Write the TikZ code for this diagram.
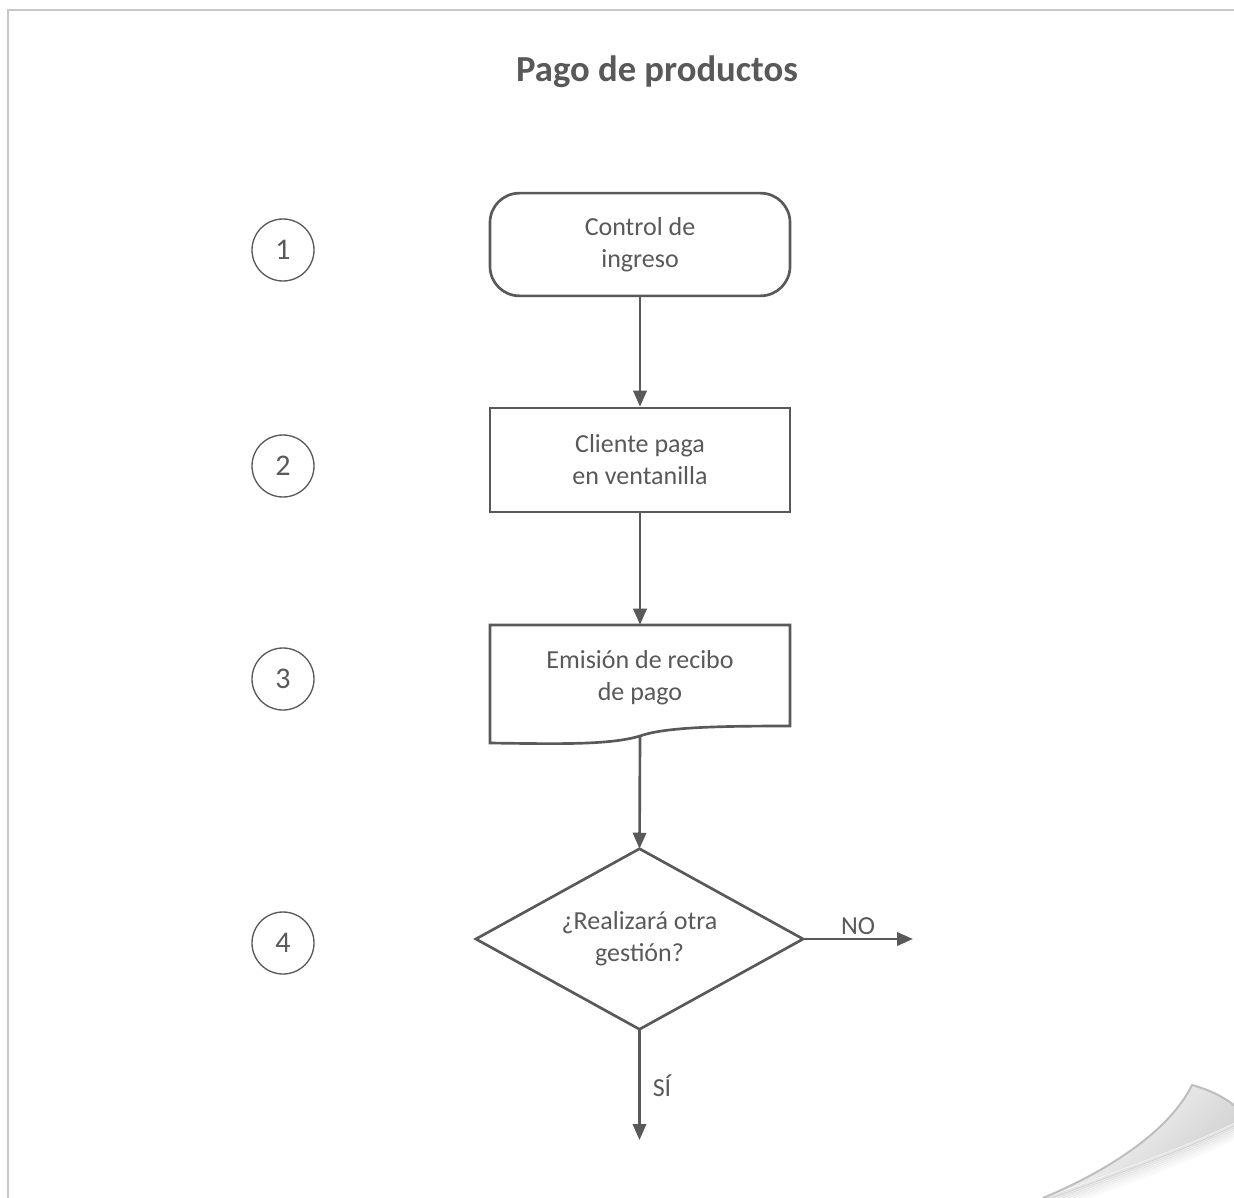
\documentclass[tikz,border=0pt]{standalone}
\usepackage{fontspec}
\setmainfont{Carlito}
\usetikzlibrary{arrows.meta}
\definecolor{ln}{HTML}{595959}
\definecolor{tx}{HTML}{595959}
\definecolor{fr}{HTML}{C8C8C8}
\definecolor{cl}{HTML}{BEBEBE}
\begin{document}
\begin{tikzpicture}[x=0.75pt,y=-0.75pt,
  txtfont/.style={font=\fontsize{19.5}{24}\selectfont},
  base/.style={draw=ln, line width=2pt, text=tx, align=center, txtfont},
  startbox/.style={base, rectangle, rounded corners=22pt, minimum width=225pt, minimum height=77pt},
  procbox/.style={base, rectangle, minimum width=225pt, minimum height=78pt},
  docbox/.style={rectangle, text=tx, align=center, txtfont, minimum width=225pt, minimum height=79.5pt, inner sep=0pt},
  docline/.style={draw=ln, line width=2pt},
  decbox/.style={rectangle, text=tx, align=center, txtfont, minimum width=245pt, minimum height=135pt, inner sep=0pt},
  numcirc/.style={circle, draw=ln, line width=1pt, minimum size=46.5pt, inner sep=0pt, text=tx, font=\fontsize{22.5}{24}\selectfont},
  conn/.style={draw=ln, line width=2pt, -{Triangle[length=12pt,width=10pt]}},
  lbl/.style={text=tx, txtfont, inner sep=0pt}
]
\fill[white] (0,0) rectangle (1234,1198);
\useasboundingbox (0,0) rectangle (1234,1198);
\draw[fr, line width=2.2pt] (8,1198) -- (8,10) -- (1234,10);
% page curl shadow
\begin{scope}
  \clip (0,0) rectangle (1234,1198);
  \foreach \i/\o in {1/0.10,2/0.08,3/0.06,4/0.05,5/0.04,6/0.03,7/0.02,8/0.015} {
    \draw[black, opacity=\o, line width=2pt]
      (1043,{1198+2*\i}) .. controls (1120,{1170+2*\i}) and (1190,{1145+2*\i}) .. (1240,{1120+2*\i});
  }
  % page curl face
  \shade[left color=white, right color=black!20, shading angle=45]
    (1192,1085) .. controls (1170,1130) and (1110,1170) .. (1043,1198)
    .. controls (1120,1170) and (1190,1145) .. (1240,1120)
    -- (1240,1110) .. controls (1225,1097) and (1210,1090) .. (1192,1085) -- cycle;
  \draw[cl, line width=1.5pt]
    (1043,1198) .. controls (1110,1170) and (1170,1130) .. (1192,1085)
    .. controls (1210,1090) and (1225,1097) .. (1240,1110);
\end{scope}

\node[text=tx, font=\fontsize{27.5}{30}\selectfont\bfseries] (title) at (657,72) {Pago de productos};

\node[numcirc] (c1) at (283,250) {1};
\node[numcirc] (c2) at (283,466) {2};
\node[numcirc] (c3) at (283,679) {3};
\node[numcirc] (c4) at (283,943) {4};

\node[startbox] (n1) at (640,244.5) {Control de\\ingreso};
\node[procbox] (n2) at (640,460) {Cliente paga\\en ventanilla};
\node[docbox] (n3) at (640,678) {Emisión de recibo\\de pago};
\draw[docline] (490,743) -- (490,625) -- (790,625) -- (790,726)
  .. controls (720,726) and (665,727) .. (640,736)
  .. controls (610,745) and (560,744) .. (490,743) -- cycle;
\coordinate (n3b) at (640,736);
\node[decbox] (n4) at (639.5,939) {¿Realizará otra\\gestión?};
\draw[docline, line join=miter] (n4.north) -- (n4.east) -- (n4.south) -- (n4.west) -- cycle;

\coordinate (noend) at (913,939);
\coordinate (siend) at (639.5,1140);

\draw[conn] (n1) -- (n2);
\draw[conn] (n2) -- (n3);
\draw[conn] (n3b) -- (n4.north);
\draw[conn] (n4.east) -- (noend);
\draw[conn] (n4.south) -- (siend);

\node[lbl] (nolbl) at (858,926) {NO};
\node[lbl] (silbl) at (662,1086) {SÍ};
\end{tikzpicture}
\end{document}
